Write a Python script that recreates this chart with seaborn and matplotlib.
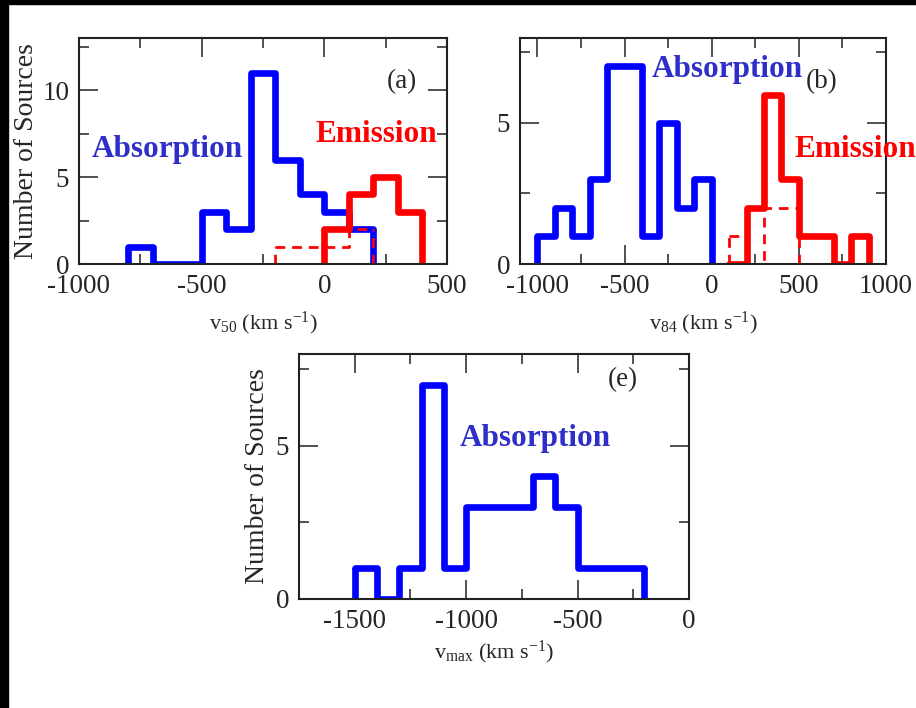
import numpy as np
import pandas as pd
import matplotlib
matplotlib.use("Agg")
import matplotlib.pyplot as plt
from matplotlib.patches import Rectangle
from matplotlib.ticker import MultipleLocator
import seaborn as sns

sns.set_style("ticks")
plt.rcParams['font.family'] = ['Liberation Serif', 'DejaVu Serif']
plt.rcParams['mathtext.fontset'] = 'custom'
plt.rcParams['mathtext.rm'] = 'Liberation Serif'
plt.rcParams['mathtext.default'] = 'regular'
plt.rcParams['axes.unicode_minus'] = False

# ---- data: bin edges and counts ----
# panel (a): v50
abs_a_edges = [-800, -700, -600, -500, -400, -300, -200, -100, 0, 100, 200]
abs_a_counts = [1, 0, 0, 3, 2, 11, 6, 4, 3, 2]
em_a_edges = [0, 100, 200, 300, 400]
em_a_counts = [2, 4, 5, 3]
emd_a_edges = [-200, -100, 0, 100, 200]
emd_a_counts = [1, 1, 1, 2]

# panel (b): v84
abs_b_edges = [-1000, -900, -800, -700, -600, -500, -400, -300, -200, -100, 0]
abs_b_counts = [1, 2, 1, 3, 7, 7, 1, 5, 2, 3]
em_b_edges = [100, 200, 300, 400, 500, 600, 700, 800, 900]
em_b_counts = [0, 2, 6, 3, 1, 1, 0, 1]
emd_b_edges = [100, 200, 300, 400, 500]
emd_b_counts = [1, 0, 2, 2]

# panel (e): vmax
abs_e_edges = [-1500, -1400, -1300, -1200, -1100, -1000, -900, -800,
               -700, -600, -500, -400, -300, -200]
abs_e_counts = [1, 0, 1, 7, 1, 3, 3, 3, 4, 3, 1, 1, 1]

BLUE = '#0000ff'
RED = '#ff0000'
TXT_BLUE = '#2e2ec8'


def hist(ax, edges, counts, color, lw=4.8, ls='-'):
    e = np.asarray(edges, dtype=float)
    df = pd.DataFrame({'v': (e[:-1] + e[1:]) / 2, 'n': counts})
    sns.histplot(data=df, x='v', weights='n', bins=list(edges), element='step',
                 fill=False, color=color, linewidth=lw, linestyle=ls, ax=ax)
    # close the outline down to zero at both ends
    ax.plot([edges[0], edges[0]], [0, counts[0]], color=color, lw=lw, ls=ls,
            solid_capstyle='butt')
    ax.plot([edges[-1], edges[-1]], [0, counts[-1]], color=color, lw=lw, ls=ls,
            solid_capstyle='butt')


def style(ax, xlim, ylim, ymajor):
    ax.set_xlim(*xlim)
    ax.set_ylim(*ylim)
    ax.xaxis.set_major_locator(MultipleLocator(500))
    ax.xaxis.set_minor_locator(MultipleLocator(250))
    ax.yaxis.set_major_locator(MultipleLocator(ymajor))
    ax.yaxis.set_minor_locator(MultipleLocator(ymajor / 2))
    ax.tick_params(which='both', direction='in', top=True, right=True,
                   width=1.2, color='#333333', labelsize=19.5, pad=7)
    ax.tick_params(which='major', length=14)
    ax.tick_params(which='minor', length=7)
    for s in ax.spines.values():
        s.set_linewidth(1.5)
        s.set_color('#222222')
    ax.set_ylabel('')
    ax.set_xlabel('')


fig = plt.figure(figsize=(9.16, 7.08), dpi=100)
ax_a = fig.add_axes([0.0862, 0.6271, 0.4017, 0.3192])
ax_b = fig.add_axes([0.5677, 0.6271, 0.3996, 0.3192])
ax_e = fig.add_axes([0.3264, 0.1540, 0.4258, 0.3460])

# (a)
hist(ax_a, abs_a_edges, abs_a_counts, BLUE)
hist(ax_a, em_a_edges, em_a_counts, RED)
hist(ax_a, emd_a_edges, emd_a_counts, RED, lw=2, ls=(0, (3.5, 2.5)))
style(ax_a, (-1000, 500), (0, 13), 5)
ax_a.set_ylabel('Number of Sources', fontsize=20, labelpad=2)
ax_a.set_xlabel(r'v$_{50}$ (km s$^{-1}$)', fontsize=16, labelpad=8)
ax_a.text(0.878, 0.78, '(a)', transform=ax_a.transAxes, fontsize=19.5,
          ha='center', va='baseline')
ax_a.text(0.035, 0.473, 'Absorption', transform=ax_a.transAxes, fontsize=22.5,
          fontweight='bold', color=TXT_BLUE, va='baseline')
ax_a.text(0.644, 0.54, 'Emission', transform=ax_a.transAxes, fontsize=22.5,
          fontweight='bold', color=RED, va='baseline')

# (b)
hist(ax_b, abs_b_edges, abs_b_counts, BLUE)
hist(ax_b, em_b_edges, em_b_counts, RED)
hist(ax_b, emd_b_edges, emd_b_counts, RED, lw=2, ls=(0, (3.5, 2.5)))
style(ax_b, (-1100, 1000), (0, 8), 5)
ax_b.set_xlabel(r'v$_{84}$ (km s$^{-1}$)', fontsize=16, labelpad=8)
ax_b.text(0.825, 0.78, '(b)', transform=ax_b.transAxes, fontsize=19.5,
          ha='center', va='baseline')
ax_b.text(0.361, 0.827, 'Absorption', transform=ax_b.transAxes, fontsize=22.5,
          fontweight='bold', color=TXT_BLUE, va='baseline')
ax_b.text(0.751, 0.473, 'Emission', transform=ax_b.transAxes, fontsize=22.5,
          fontweight='bold', color=RED, va='baseline')

# (e)
hist(ax_e, abs_e_edges, abs_e_counts, BLUE)
style(ax_e, (-1750, 0), (0, 8), 5)
ax_e.set_ylabel('Number of Sources', fontsize=20, labelpad=4)
ax_e.set_xlabel(r'v$_{max}$ (km s$^{-1}$)', fontsize=16, labelpad=4)
ax_e.text(0.83, 0.867, '(e)', transform=ax_e.transAxes, fontsize=19.5,
          ha='center', va='baseline')
ax_e.text(0.413, 0.624, 'Absorption', transform=ax_e.transAxes, fontsize=22.5,
          fontweight='bold', color=TXT_BLUE, va='baseline')

# black border strips at top and left as in the scan
fig.patches.append(Rectangle((0, 1 - 4 / 708), 1, 4 / 708, color='black',
                             transform=fig.transFigure, figure=fig))
fig.patches.append(Rectangle((0, 0), 7.5 / 916, 1, color='black',
                             transform=fig.transFigure, figure=fig))

fig.savefig('out.png', dpi=100)
